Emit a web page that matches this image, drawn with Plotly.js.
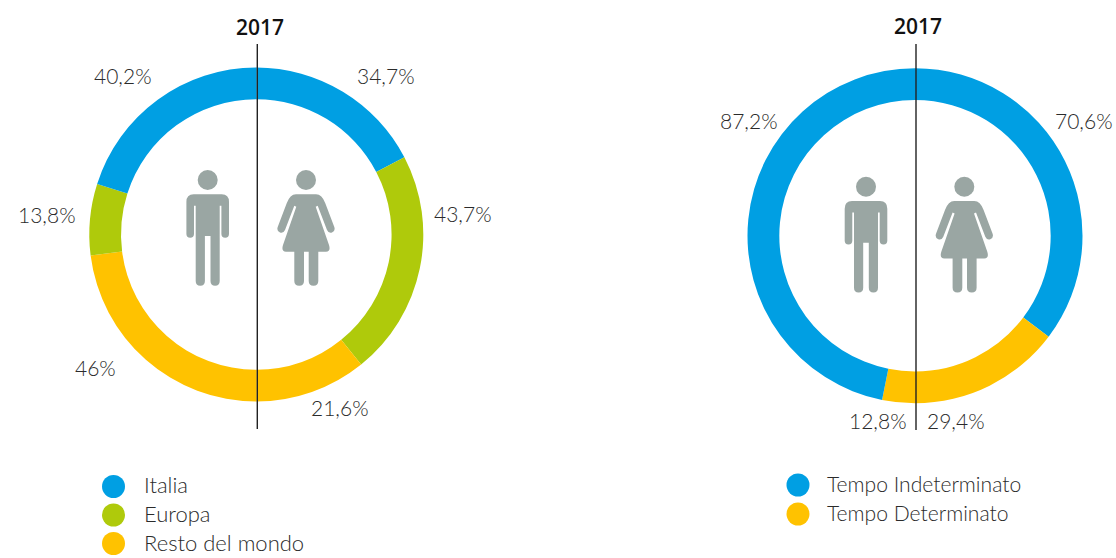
<!DOCTYPE html>
<html>
<head>
<meta charset="utf-8">
<script src="https://cdn.plot.ly/plotly-3.0.1.min.js"></script>
<style>html,body{margin:0;padding:0;background:#fff}#chart{width:1116px;height:558px}</style>
</head>
<body>
<div id="chart"></div>
<script>
// ---- data ----
const yearLabel = "2017";
const originCategories = ["Italia", "Europa", "Resto del mondo"];
const originWomen = [34.7, 43.7, 21.6];
const originMen = [40.2, 13.8, 46];
const contractCategories = ["Tempo Indeterminato", "Tempo Determinato"];
const contractWomen = [70.6, 29.4];
const contractMen = [87.2, 12.8];
// The reference draws the men's contract arcs at these sizes, which differ from its printed labels.
const contractMenDrawn = [93.7, 6.3];

// ---- styles ----
const W = 1116, H = 558;
const BLUE = "#009FE3", GREEN = "#AFCA0B", YELLOW = "#FFC200", ICON = "#9AA6A3", INK = "#2b2b2b";
const originColors = [BLUE, GREEN, YELLOW];
const contractColors = [BLUE, YELLOW];
const FONT = "Lato, 'Open Sans', sans-serif";

const fmt = v => String(v).replace(".", ",") + "%";
const rev = a => a.slice().reverse();

function donut(women, men, cats, colors, cx, cy, r, hole) {
  return {
    type: "pie", sort: false, direction: "clockwise", rotation: 0,
    values: women.concat(rev(men)),
    labels: cats.map(c => "Donne " + c).concat(rev(cats).map(c => "Uomini " + c)),
    marker: {colors: colors.concat(rev(colors)), line: {width: 0}},
    hole: hole, textinfo: "none", hoverinfo: "skip", showlegend: false,
    domain: {x: [(cx - r) / W, (cx + r) / W], y: [1 - (cy + r) / H, 1 - (cy - r) / H]}
  };
}

function legendDots(cats, colors, x, ys) {
  return {
    type: "scatter", mode: "markers", xaxis: "x", yaxis: "y",
    x: cats.map(() => x), y: ys, text: cats, hoverinfo: "skip", showlegend: false,
    marker: {size: 23, color: colors, line: {width: 0}}
  };
}

const manPath = (x, y) => shift([
  ["M",-14,14.3],["L",14,14.3],["Q",21.3,14.3,21.3,22],["L",21.3,54],["Q",21.3,57.7,17.5,57.7],["Q",13.7,57.7,13.7,54],
  ["L",13.7,25.7],["L",12,25.7],["L",12,101],["Q",12,105.7,7.4,105.7],["Q",2.8,105.7,2.8,101],["L",2.8,56],["L",-2.8,56],
  ["L",-2.8,101],["Q",-2.8,105.7,-7.4,105.7],["Q",-12,105.7,-12,101],["L",-12,25.7],["L",-13.7,25.7],["L",-13.7,54],
  ["Q",-13.7,57.7,-17.5,57.7],["Q",-21.3,57.7,-21.3,54],["L",-21.3,22],["Q",-21.3,14.3,-14,14.3],["Z"]
], x, y);

const womanPath = (x, y) => shift([
  ["M",-10,14.3],["L",10,14.3],["Q",16,14.3,19.3,23.3],["L",28.3,47],["Q",29.6,51,26,52.5],["Q",22.5,53.5,21,50],
  ["L",11.7,25.7],["L",9.7,26.7],["L",23,65],["Q",25,71.7,20,71.7],["L",12.3,71.7],["L",12.3,101],["Q",12.3,105.7,7.5,105.7],
  ["Q",2.7,105.7,2.7,101],["L",2.7,71.7],["L",-2,71.7],["L",-2,101],["Q",-2,105.7,-6.8,105.7],["Q",-11.7,105.7,-11.7,101],
  ["L",-11.7,71.7],["L",-20,71.7],["Q",-25,71.7,-23,65],["L",-9.7,26.7],["L",-11.7,25.7],["L",-21,50],["Q",-22.5,53.5,-26,52.5],
  ["Q",-29.6,51,-28.3,47],["L",-19.3,23.3],["Q",-16,14.3,-10,14.3],["Z"]
], x, y);

function shift(cmds, x, y) {
  return cmds.map(c => c[0] + c.slice(1).map((v, i) => (i % 2 ? v + y : v + x).toFixed(2)).join(",")).join(" ");
}
const base = {xref: "x", yref: "y", layer: "above"};
function figure(pathFn, x, y) {
  return [
    Object.assign({}, base, {type: "circle", x0: x - 10, x1: x + 10, y0: y - 10, y1: y + 10, fillcolor: ICON, line: {width: 0}}),
    Object.assign({}, base, {type: "path", path: pathFn(x, y), fillcolor: ICON, line: {width: 0}})
  ];
}
function vline(x, y0, y1) {
  return Object.assign({}, base, {type: "line", x0: x, x1: x, y0: y0, y1: y1, line: {color: "#222", width: 1.4}});
}
function label(x, y, text, opts) {
  return Object.assign({xref: "x", yref: "y", x: x, y: y, text: text, showarrow: false, xanchor: "center", yanchor: "middle",
    font: {family: FONT, size: 21, color: INK, weight: 300}}, opts || {});
}
const legendFontLeft = {family: FONT, size: 22, color: INK, weight: 300};
const legendFontRight = {family: FONT, size: 21.1, color: INK, weight: 300};
const titleFont = {family: "'Open Sans', sans-serif", size: 21, color: "#111", weight: 600};

const traces = [
  donut(originWomen, originMen, originCategories, originColors, 256.3, 234.5, 167, 0.81),
  donut(contractWomen, contractMenDrawn, contractCategories, contractColors, 915, 235.7, 167.5, 0.81),
  legendDots(originCategories, originColors, 113.5, [486.5, 515, 543.5]),
  legendDots(contractCategories, contractColors, 798, [485, 514])
];

const annotations = [
  label(260, 26.5, yearLabel, {font: titleFont}),
  label(918, 25.5, yearLabel, {font: titleFont}),
  label(386, 75, fmt(originWomen[0])),
  label(463, 213, fmt(originWomen[1])),
  label(340, 407, fmt(originWomen[2])),
  label(123, 75, fmt(originMen[0])),
  label(47, 214, fmt(originMen[1])),
  label(95, 367, fmt(originMen[2])),
  label(1084, 120, fmt(contractWomen[0])),
  label(956, 420, fmt(contractWomen[1])),
  label(749, 120, fmt(contractMen[0])),
  label(878, 420, fmt(contractMen[1])),
  label(141.5, 484.5, originCategories[0], {xanchor: "left", font: legendFontLeft}),
  label(141.5, 513.5, originCategories[1], {xanchor: "left", font: legendFontLeft}),
  label(141.5, 542.5, originCategories[2], {xanchor: "left", font: legendFontLeft}),
  label(825, 483.5, contractCategories[0], {xanchor: "left", font: legendFontRight}),
  label(825, 512.5, contractCategories[1], {xanchor: "left", font: legendFontRight})
];

const shapes = [
  vline(257.3, 44, 429), vline(916, 44, 430)
].concat(figure(manPath, 207.7, 180), figure(womanPath, 306, 180),
         figure(manPath, 866, 186.7), figure(womanPath, 964.3, 186.7));

const layout = {
  width: W, height: H, margin: {l: 0, r: 0, t: 0, b: 0},
  paper_bgcolor: "#fff", plot_bgcolor: "rgba(0,0,0,0)", showlegend: false,
  xaxis: {range: [0, W], visible: false, fixedrange: true},
  yaxis: {range: [H, 0], visible: false, fixedrange: true},
  shapes: shapes, annotations: annotations
};
Plotly.newPlot("chart", traces, layout, {displayModeBar: false, staticPlot: true});
</script>
</body>
</html>
